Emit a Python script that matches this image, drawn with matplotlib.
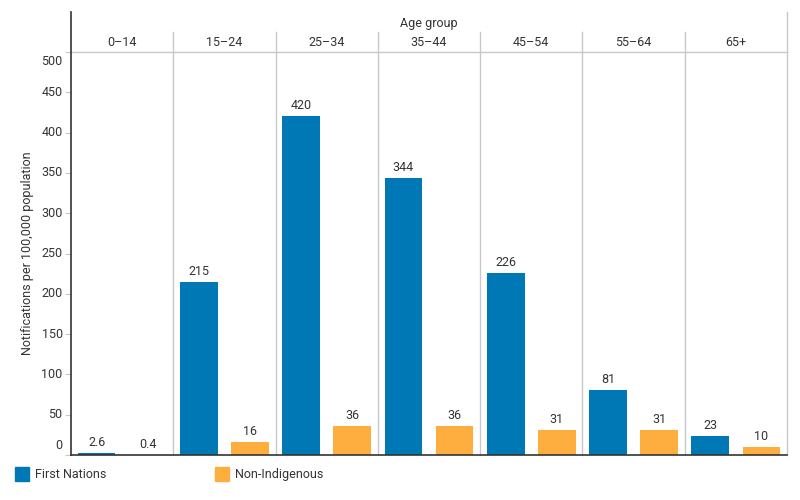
import matplotlib
matplotlib.use("Agg")
import matplotlib.pyplot as plt
from matplotlib.patches import Rectangle
import numpy as np

age_groups = ["0–14", "15–24", "25–34", "35–44", "45–54", "55–64", "65+"]
first_nations = [2.6, 215, 420, 344, 226, 81, 23]
non_indigenous = [0.4, 16, 36, 36, 31, 31, 10]
fn_labels = ["2.6", "215", "420", "344", "226", "81", "23"]
ni_labels = ["0.4", "16", "36", "36", "31", "31", "10"]
series_names = ["First Nations", "Non-Indigenous"]
y_ticks = [0, 50, 100, 150, 200, 250, 300, 350, 400, 450, 500]

BLUE = "#0078B6"
ORANGE = "#FDAE3F"
TXT = "#333333"
GRID = "#C8C8C8"

plt.rcParams['font.family'] = ['Roboto', 'DejaVu Sans']

fig = plt.figure(figsize=(8, 5), dpi=100)
W, H = 800, 500
ax = fig.add_axes([71 / W, 1 - 455 / H, (787 - 71) / W, (455 - 52) / H])

n = len(age_groups)
x = np.arange(n)
bw = 0.37
b1 = ax.bar(x + 0.25, first_nations, width=bw, color=BLUE, zorder=3)
b2 = ax.bar(x + 0.75, non_indigenous, width=bw, color=ORANGE, zorder=3)

for bars, labs in ((b1, fn_labels), (b2, ni_labels)):
    for rect, lab in zip(bars, labs):
        ax.annotate(lab, xy=(rect.get_x() + rect.get_width() / 2, rect.get_height()),
                    xytext=(0, 3), textcoords="offset points", ha="center", va="bottom",
                    fontsize=9, color=TXT)

ax.set_xlim(0, n)
ax.set_ylim(0, 500)

for s in ["top", "right", "left", "bottom"]:
    ax.spines[s].set_visible(False)

ax.set_xticks([])
ax.set_yticks(y_ticks)
ax.set_yticklabels([])
ax.tick_params(axis="y", length=4, width=0.8, color=GRID, direction="out")

ytr = ax.get_yaxis_transform()
for v in y_ticks:
    dy = 0
    if v == 500:
        dy = -6.5
    elif v == 0:
        dy = 6.5
    ax.annotate(str(v), xy=(0, v), xycoords=ytr, xytext=(-6, dy), textcoords="offset points",
                ha="right", va="center", fontsize=9, color=TXT, annotation_clip=False)

xtr = ax.get_xaxis_transform()
axh = 455 - 52
# panel dividers incl. header area
for i in range(1, n):
    ax.plot([i, i], [0, (455 - 32) / axh], transform=xtr, color=GRID, lw=1, clip_on=False, zorder=1)
# left axis line and right border
ax.plot([0, 0], [0, (455 - 12) / axh], transform=xtr, color="#333333", lw=1.2, clip_on=False, zorder=4)
ax.plot([n, n], [0, (455 - 12) / axh], transform=xtr, color=GRID, lw=1, clip_on=False, zorder=1)
# header bottom line
ax.plot([0, n], [1, 1], transform=xtr, color=GRID, lw=1, clip_on=False, zorder=1)
# baseline
ax.plot([0, n], [0, 0], transform=xtr, color="#333333", lw=1.2, clip_on=False, zorder=4)

for i, g in enumerate(age_groups):
    ax.text(i + 0.5, (455 - 43) / axh, g, transform=xtr, ha="center", va="center",
            fontsize=9, color=TXT)
ax.text(n / 2, (455 - 23) / axh, "Age group", transform=xtr, ha="center", va="center",
        fontsize=9, color=TXT)

ax.text(-(71 - 28) / (787 - 71), 0.5, "Notifications per 100,000 population",
        transform=ax.transAxes, rotation=90, ha="center", va="center", fontsize=9, color=TXT)

# legend
for xpos, col, name in ((15, BLUE, series_names[0]), (215, ORANGE, series_names[1])):
    fig.add_artist(Rectangle((xpos / W, 1 - 481 / H), 14 / W, 14 / H, transform=fig.transFigure,
                             color=col))
    fig.text((xpos + 20) / W, 1 - 474.5 / H, name, ha="left", va="center", fontsize=9, color=TXT)

fig.savefig("out.png", dpi=100)
